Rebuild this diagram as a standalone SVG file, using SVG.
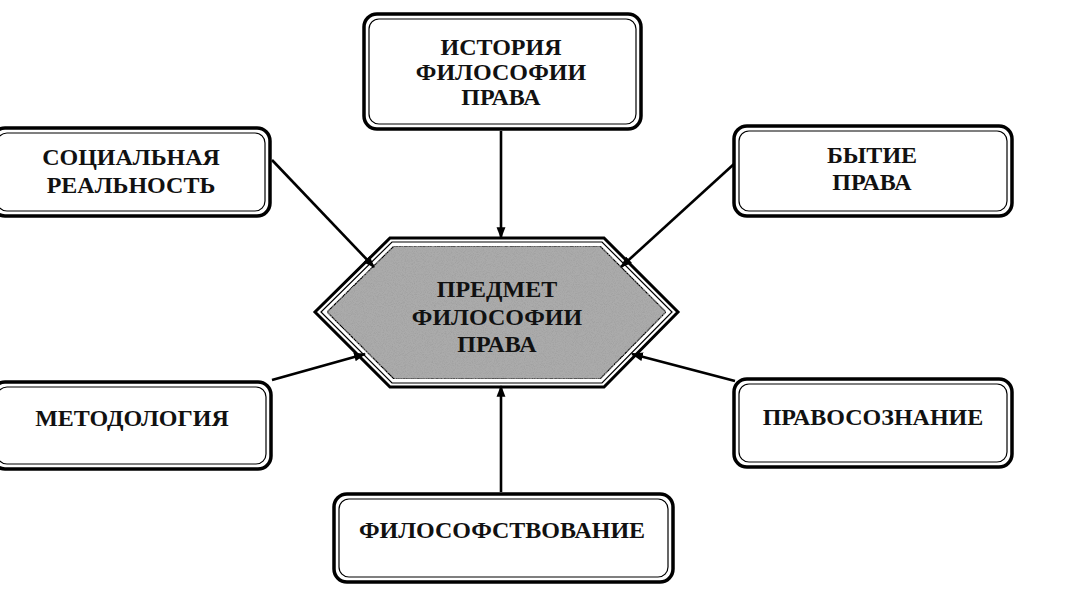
<svg xmlns="http://www.w3.org/2000/svg" width="1074" height="598" viewBox="0 0 1074 598">
<defs>
<style>
.outer{fill:#fff;stroke:#000;stroke-width:3.5}
.inner{fill:none;stroke:#000;stroke-width:1.2}
.t{font-family:"Liberation Serif","Times New Roman",serif;font-weight:bold;font-size:24px;fill:#111;text-anchor:middle}
.c{stroke:#000;stroke-width:2.6;fill:none;marker-end:url(#ah)}
</style>
<marker id="ah" viewBox="0 0 12 10" refX="11" refY="5" markerWidth="4.6" markerHeight="3.8" orient="auto" markerUnits="strokeWidth">
<path d="M0,0.5 L12,5 L0,9.5 Z" fill="#000"/>
</marker>
<filter id="grain" x="0" y="0" width="100%" height="100%">
<feTurbulence type="fractalNoise" baseFrequency="1.1" numOctaves="2" seed="3" result="n"/>
<feColorMatrix in="n" type="matrix" values="0 0 0 0 0.35  0 0 0 0 0.35  0 0 0 0 0.35  0 0 0 2.2 -0.9" result="dots"/>
<feComposite in="dots" in2="SourceGraphic" operator="in" result="d2"/>
<feMerge><feMergeNode in="SourceGraphic"/><feMergeNode in="d2"/></feMerge>
</filter>
</defs>
<rect width="1074" height="598" fill="#fff"/>
<g id="center">
<polygon points="390,238 604,238 678,312 604,387 390,387 315,312" fill="#fff" stroke="#000" stroke-width="3"/>
<polygon points="392,242 602,242 672,312 602,383 392,383 321,312" fill="none" stroke="#000" stroke-width="1.2"/>
<polygon points="394,246 600,246 666,312 600,379 394,379 327,312" fill="#ababab" stroke="#000" stroke-width="1.2" filter="url(#grain)"/>
<text class="t" x="497" y="297" font-size="25">ПРЕДМЕТ</text>
<text class="t" x="497" y="325" font-size="25">ФИЛОСОФИИ</text>
<text class="t" x="497" y="352" font-size="25">ПРАВА</text>
</g>
<g id="history">
<rect class="outer" x="364" y="14" width="277" height="115" rx="13"/>
<rect class="inner" x="369" y="19" width="267" height="105" rx="10"/>
<text class="t" x="501" y="55">ИСТОРИЯ</text>
<text class="t" x="501" y="80">ФИЛОСОФИИ</text>
<text class="t" x="501" y="105">ПРАВА</text>
</g>
<g id="social">
<rect class="outer" x="-8" y="128" width="278" height="88" rx="13"/>
<rect class="inner" x="-3" y="133" width="268" height="78" rx="10"/>
<text class="t" x="131" y="165">СОЦИАЛЬНАЯ</text>
<text class="t" x="131" y="193">РЕАЛЬНОСТЬ</text>
</g>
<g id="being">
<rect class="outer" x="734" y="126" width="278" height="90" rx="13"/>
<rect class="inner" x="739" y="131" width="268" height="80" rx="10"/>
<text class="t" x="872" y="163">БЫТИЕ</text>
<text class="t" x="872" y="190">ПРАВА</text>
</g>
<g id="method">
<rect class="outer" x="-8" y="382" width="279" height="87" rx="13"/>
<rect class="inner" x="-3" y="387" width="269" height="77" rx="10"/>
<text class="t" x="132" y="426">МЕТОДОЛОГИЯ</text>
</g>
<g id="consciousness">
<rect class="outer" x="734" y="379" width="278" height="88" rx="13"/>
<rect class="inner" x="739" y="384" width="268" height="78" rx="10"/>
<text class="t" x="873" y="425">ПРАВОСОЗНАНИЕ</text>
</g>
<g id="philosophizing">
<rect class="outer" x="334" y="494" width="339" height="88" rx="13"/>
<rect class="inner" x="339" y="499" width="329" height="78" rx="10"/>
<text class="t" x="502" y="538">ФИЛОСОФСТВОВАНИЕ</text>
</g>
<g id="connectors">
<line class="c" x1="501" y1="131" x2="501" y2="238"/>
<line class="c" x1="272" y1="160" x2="374" y2="267"/>
<line class="c" x1="734" y1="164" x2="621" y2="267"/>
<line class="c" x1="272" y1="380" x2="365" y2="354"/>
<line class="c" x1="735" y1="381" x2="632" y2="354"/>
<line class="c" x1="501" y1="492" x2="501" y2="386"/>
</g>
</svg>
